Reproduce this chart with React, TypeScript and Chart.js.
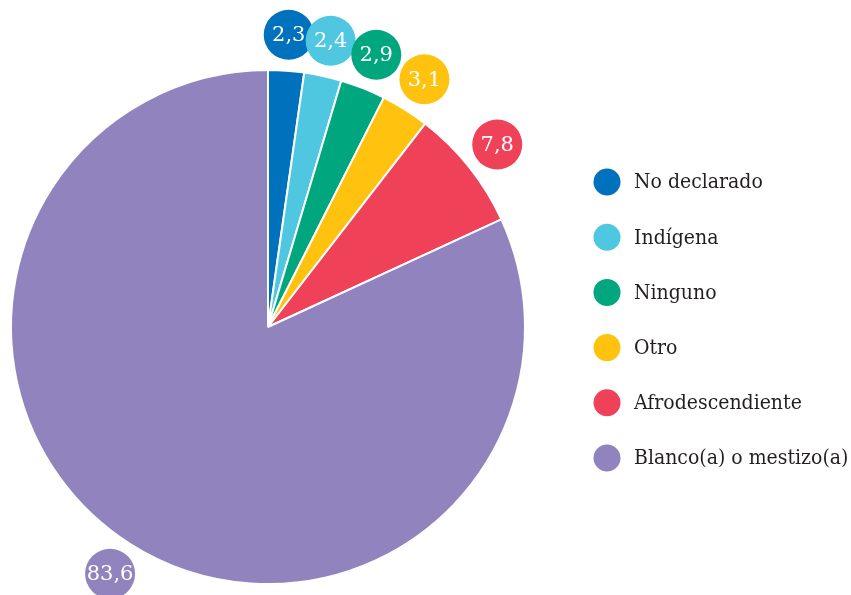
import React, { useEffect, useRef } from "react";
import { Chart, registerables } from "chart.js";

Chart.register(...registerables);

const categories = [
  "No declarado",
  "Indígena",
  "Ninguno",
  "Otro",
  "Afrodescendiente",
  "Blanco(a) o mestizo(a)",
];
const values = [2.3, 2.4, 2.9, 3.1, 7.8, 83.6];
const valueLabels = ["2,3", "2,4", "2,9", "3,1", "7,8", "83,6"];
const colors = ["#0071BC", "#4FC7E0", "#00A77E", "#FFC20F", "#EF4157", "#9184BE"];

const LEGEND_FONT = '"DejaVu Serif Condensed", "DejaVu Serif", serif';
const LABEL_FONT = '"DejaVu Serif", serif';

const bubbleLabels = {
  id: "bubbleLabels",
  afterDatasetsDraw(chart: any) {
    const meta = chart.getDatasetMeta(0);
    const ctx = chart.ctx;
    ctx.save();
    meta.data.forEach((arc: any, i: number) => {
      const p = arc.getProps(["x", "y", "startAngle", "endAngle", "outerRadius"], true);
      const mid = (p.startAngle + p.endAngle) / 2;
      const r = p.outerRadius + 36;
      const cx = p.x + Math.cos(mid) * r;
      const cy = p.y + Math.sin(mid) * r;
      ctx.beginPath();
      ctx.arc(cx, cy, 25, 0, Math.PI * 2);
      ctx.fillStyle = colors[i];
      ctx.fill();
      ctx.fillStyle = "#ffffff";
      ctx.font = `21px ${LABEL_FONT}`;
      ctx.textAlign = "center";
      ctx.textBaseline = "middle";
      ctx.fillText(valueLabels[i], cx, cy + 1);
    });
    ctx.restore();
  },
};

const sideLegend = {
  id: "sideLegend",
  afterDraw(chart: any) {
    const ctx = chart.ctx;
    const labels = chart.data.labels as string[];
    const bg = chart.data.datasets[0].backgroundColor as string[];
    ctx.save();
    labels.forEach((lab, i) => {
      const y = 182 + i * 55.2;
      ctx.beginPath();
      ctx.arc(607, y, 13.5, 0, Math.PI * 2);
      ctx.fillStyle = bg[i];
      ctx.fill();
      ctx.fillStyle = "#231F20";
      ctx.font = `21px ${LEGEND_FONT}`;
      ctx.textAlign = "left";
      ctx.textBaseline = "middle";
      ctx.fillText(lab, 634, y + 1);
    });
    ctx.restore();
  },
};

export default function App() {
  const ref = useRef<HTMLCanvasElement | null>(null);
  useEffect(() => {
    if (!ref.current) return;
    const chart = new Chart(ref.current, {
      type: "pie",
      data: {
        labels: categories,
        datasets: [
          {
            data: values,
            backgroundColor: colors,
            borderColor: "#ffffff",
            borderWidth: 2,
          },
        ],
      },
      options: {
        animation: false,
        responsive: true,
        maintainAspectRatio: false,
        layout: { padding: { left: 10, top: 69, bottom: 10, right: 325 } },
        plugins: {
          legend: { display: false },
          tooltip: { enabled: false },
        },
      },
      plugins: [bubbleLabels, sideLegend],
    });
    return () => chart.destroy();
  }, []);
  return (
    <div style={{ position: "absolute", left: 0, top: 0, width: 851, height: 595, background: "#fff" }}>
      <canvas ref={ref} />
    </div>
  );
}
